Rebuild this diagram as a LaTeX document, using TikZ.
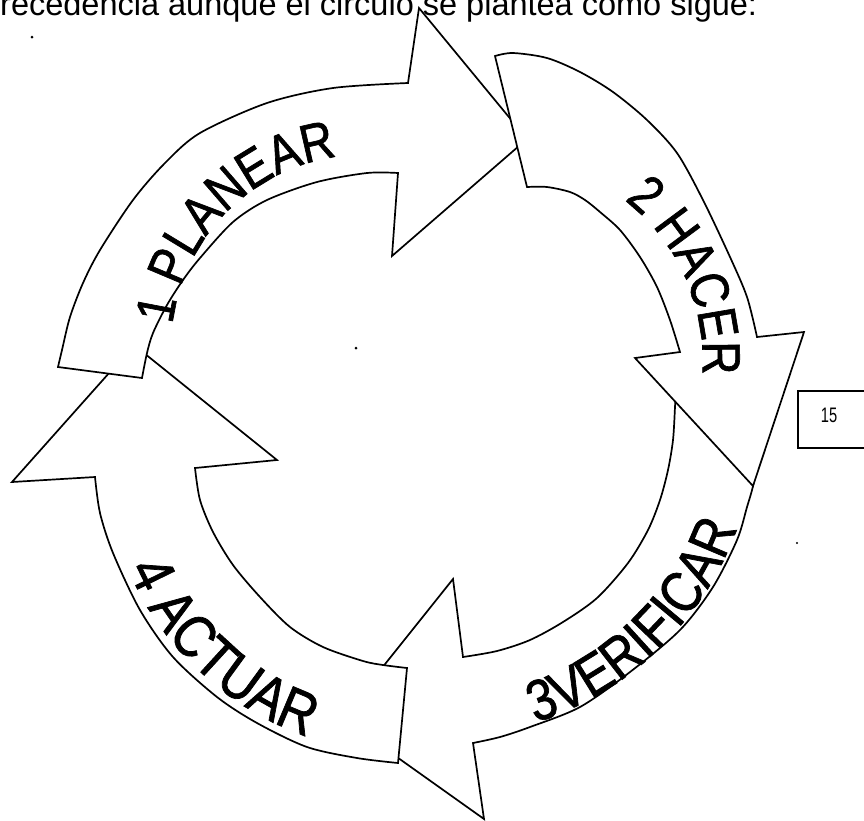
\documentclass[tikz,border=0pt]{standalone}
\usepackage{fontspec}
\setmainfont{Liberation Sans}
\newfontfamily\lblfont[FakeStretch=0.85,FakeBold=1.2]{Liberation Sans}
\usepackage{graphicx}
\usetikzlibrary{decorations.text}
\tikzset{
  arrowshape/.style={draw=black, fill=white, line width=1.7pt, line join=miter},
  speck/.style={fill=black},
}
\begin{document}
\begin{tikzpicture}[x=1pt,y=-1pt]
\useasboundingbox (0,0) rectangle (864,820);
\fill[white] (0,0) rectangle (864,820);

% header text
\node[anchor=base west, inner sep=0, font=\fontsize{32.5}{32.5}\selectfont] (header) at (0,15) {recedencia aunque el circulo se plantea como sigue:};

% arrow 3 (VERIFICAR)
\draw[arrowshape] plot[smooth] coordinates {(676,385) (675,407) (673,440) (668,470) (660,500) (648,530) (628,563) (597,598) (563,622) (530,640) (497,651) (463,657)}
  -- (453,579) -- (342,718) -- (484,819) -- (473,743)
  -- plot[smooth] coordinates {(473,743) (500,737) (530,727) (580,707) (630,672) (680,630) (713,587) (737,540) (747,507) (753,486) (760,450) (765,420) (770,390)} -- cycle;

% arrow 4 (ACTUAR)
\draw[arrowshape] plot[smooth] coordinates {(407,668) (383,665) (363,661) (323,647) (290,627) (260,597) (233,565) (213,532) (200,500) (195,468)}
  -- (277,460) -- (134,345) -- (12,482) -- (95,477)
  -- plot[smooth] coordinates {(95,477) (100,513) (113,553) (140,610) (173,657) (217,697) (257,723) (307,747) (357,758) (398,763)} -- cycle;

% arrow 1 (PLANEAR)
\draw[arrowshape] plot[smooth] coordinates {(58,367) (62,350) (70,317) (83,283) (100,250) (133,200) (165,163) (200,133) (267,103) (333,88) (408,83)}
  -- (419,8) -- (527,139) -- (392,256) -- (398,173)
  -- plot[smooth] coordinates {(398,173) (367,173) (317,182) (267,200) (233,222) (200,258) (183,280) (167,305) (153,333) (147,353) (142,378)} -- cycle;

% arrow 2 (HACER)
\draw[arrowshape] plot[smooth] coordinates {(495,56) (513,53) (547,58) (580,72) (613,92) (647,120) (677,153) (703,200) (730,257) (747,297) (757,337)}
  -- (804,332) -- (753,486) -- (635,358) -- (680,352)
  -- plot[smooth] coordinates {(680,352) (670,320) (657,287) (640,257) (620,230) (600,212) (585,200) (570,192) (547,187) (527,187)} -- cycle;

% labels
\path[decorate, decoration={text along path, text align=center, text={|\lblfont\fontsize{54}{54}\selectfont|1 PLANEAR}}]
  (364,348) ++(-190:193) arc[start angle=-190, end angle=-81, radius=193];
\path[decorate, decoration={text along path, text align=center, text={|\lblfont\fontsize{54}{54}\selectfont|2 HACER}}]
  (500,360) ++(-69:202.5) arc[start angle=-69, end angle=21, radius=202.5];
\path[decorate, decoration={text along path, text align=center, text={|\lblfont\fontsize{58}{58}\selectfont|3VERIFICAR}}]
  (438,420) ++(95:318) arc[start angle=95, end angle=-3, radius=318];
\path[decorate, decoration={text along path, text align=center, text={|\lblfont\fontsize{60}{60}\selectfont|4 ACTUAR}}]
  (409,448) ++(180:306) arc[start angle=180, end angle=86, radius=306];

% page number box
\draw[line width=2pt] (798,391) rectangle (880,448);
\node[inner sep=0] (pagenum) at (829,415) {\scalebox{0.7}[1]{\fontsize{21}{21}\selectfont 15}};

% specks
\fill[speck] (32,37) circle[radius=1.5];
\fill[speck] (356,348) circle[radius=1.5];
\fill[speck] (797,543) circle[radius=1.2];
\end{tikzpicture}
\end{document}
